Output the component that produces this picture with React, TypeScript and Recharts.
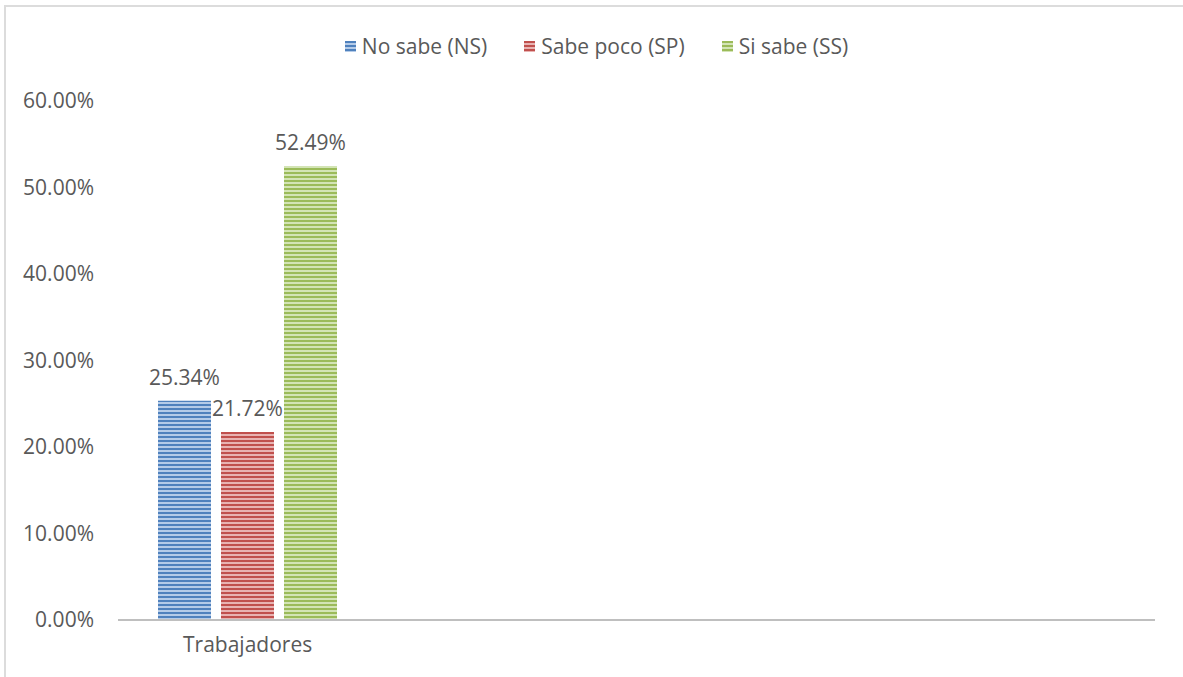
import React from "react";
import { BarChart, Bar, XAxis, YAxis, Legend, LabelList } from "recharts";

const categories = ["Trabajadores", "", "", ""];
const noSabe = [25.34, null, null, null];
const sabePoco = [21.72, null, null, null];
const siSabe = [52.49, null, null, null];
const yTicks = [0, 10, 20, 30, 40, 50, 60];

const seriesNames = ["No sabe (NS)", "Sabe poco (SP)", "Si sabe (SS)"];
const seriesKeys = ["ns", "sp", "ss"];
const seriesPatterns = ["patBlue", "patRed", "patGreen"];

const data = categories.map((c, i) => ({
  name: c,
  ns: noSabe[i],
  sp: sabePoco[i],
  ss: siSabe[i],
}));

const FONT = "'Open Sans', sans-serif";
const TEXT = "#595959";
const FS = 21;

const fmt = (v: any) =>
  v === null || v === undefined ? "" : `${Number(v).toFixed(2)}%`;

const Patterns = () => (
  <svg width={0} height={0} style={{ position: "absolute" }}>
    <defs>
      <pattern id="patBlue" width={8} height={4} patternUnits="userSpaceOnUse">
        <rect width={8} height={4} fill="#B4CBE8" />
        <rect width={8} height={2} fill="#4F81BD" />
      </pattern>
      <pattern id="patRed" width={8} height={4} patternUnits="userSpaceOnUse">
        <rect width={8} height={4} fill="#E8B3B2" />
        <rect width={8} height={2} fill="#C0504D" />
      </pattern>
      <pattern id="patGreen" width={8} height={4} patternUnits="userSpaceOnUse">
        <rect width={8} height={4} fill="#D3E4B5" />
        <rect width={8} height={2} fill="#9BBB59" />
      </pattern>
    </defs>
  </svg>
);

const LegendContent = () => (
  <div
    style={{
      display: "flex",
      justifyContent: "center",
      alignItems: "center",
      fontFamily: FONT,
      fontSize: FS,
      color: TEXT,
      gap: 37,
      paddingLeft: 10,
      lineHeight: "28px",
    }}
  >
    {seriesNames.map((n, i) => (
      <div key={n} style={{ display: "flex", alignItems: "center" }}>
        <svg width={11} height={11} style={{ marginRight: 6 }}>
          <rect width={11} height={11} fill={`url(#${seriesPatterns[i]})`} />
        </svg>
        <span>{n}</span>
      </div>
    ))}
  </div>
);

export default function App() {
  return (
    <div
      style={{
        position: "absolute",
        left: 0,
        top: 0,
        width: 1183,
        height: 677,
        background: "#fff",
        overflow: "hidden",
      }}
    >
      <Patterns />
      <div
        style={{
          position: "absolute",
          left: 4,
          top: 5,
          width: 1200,
          height: 700,
          borderTop: "2px solid #DCDCDC",
          borderLeft: "2px solid #DCDCDC",
        }}
      />
      <div style={{ position: "absolute", left: 0, top: 0 }}>
        <BarChart
          width={1183}
          height={677}
          data={data}
          margin={{ top: 101, right: 28, bottom: 27, left: 0 }}
          barGap={10}
          barSize={53}
        >
          <XAxis
            dataKey="name"
            axisLine={{ stroke: "#BFBFBF", strokeWidth: 2 }}
            tickLine={false}
            tickSize={0}
            tickMargin={17}
            height={30}
            interval={0}
            tick={{ fill: TEXT, fontSize: FS, fontFamily: FONT }}
          />
          <YAxis
            domain={[0, 60]}
            ticks={yTicks}
            width={118}
            axisLine={false}
            tickLine={false}
            tickSize={0}
            tickMargin={24}
            tickFormatter={(v: number) => `${v.toFixed(2)}%`}
            tick={{ fill: TEXT, fontSize: FS, fontFamily: FONT }}
          />
          <Legend
            verticalAlign="middle"
            layout="horizontal"
            content={<LegendContent />}
            wrapperStyle={{ top: 32, left: 0, width: 1183 }}
          />
          {seriesKeys.map((k, i) => (
            <Bar
              key={k}
              dataKey={k}
              name={seriesNames[i]}
              fill={`url(#${seriesPatterns[i]})`}
              isAnimationActive={false}
            >
              <LabelList
                dataKey={k}
                position="top"
                offset={16}
                formatter={fmt}
                style={{ fill: TEXT, fontSize: FS, fontFamily: FONT }}
              />
            </Bar>
          ))}
        </BarChart>
      </div>
    </div>
  );
}
